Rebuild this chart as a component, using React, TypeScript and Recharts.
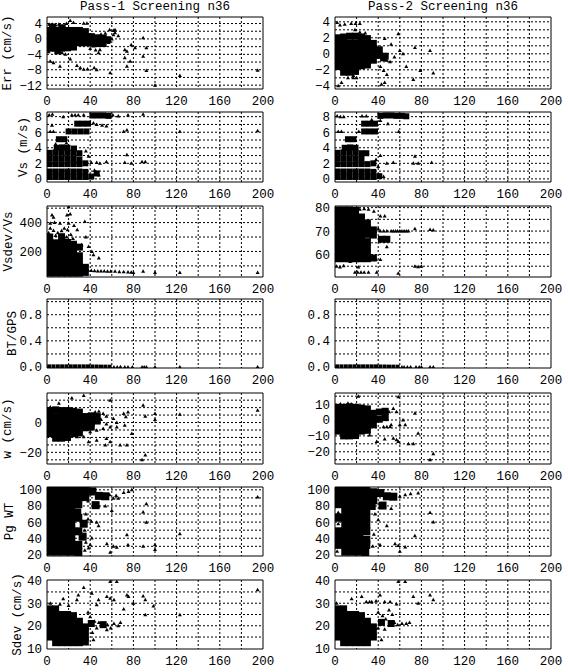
import React from 'react';
import { ScatterChart, Scatter, XAxis, YAxis, CartesianGrid, ReferenceArea } from 'recharts';

type Pt = [number, number];

// ---- shared axis / text data ----
const xTicks = [0, 40, 80, 120, 160, 200];
const xGrid = [20, 40, 60, 80, 100, 120, 140, 160, 180];
const titles = ['Pass-1 Screening n36', 'Pass-2 Screening n36'];
const yLabels = ['Err (cm/s)', 'Vs (m/s)', 'Vsdev/Vs', 'BT/GPS', 'w (cm/s)', 'Pg WT', 'Sdev (cm/s)'];

// ---- Err (cm/s) ----
const errDomainL = [-13, 5.7];
const errTicksL = [-12, -8, -4, 0, 4];
const errGridL = [-12, -10, -8, -6, -4, -2, 0, 2, 4];
const errDomainR = [-4.4, 4.6];
const errTicksR = [-4, -2, 0, 2, 4];
const errGridR = [-4, -3, -2, -1, 0, 1, 2, 3, 4];
const errCoreL: Pt[] = [
  [2.5,2.2],[8,2.2],[13.5,2.2],[19,2.2],[24.5,2.2],[30,2.2],[35.5,1.9],
  [2.5,0.6],[8,0.6],[13.5,0.6],[19,0.6],[24.5,0.6],[30,0.6],[35.5,0.6],[41,0.6],[46.5,0.3],[52,0.2],[56,-0.2],
  [2.5,-1],[8,-1],[13.5,-1],[19,-1],[24.5,-1],[30,-1],[35.5,-1],[41,-1],[46.5,-1.2],[52,-1.2],
  [2.5,-2.4],[8,-2.4],[13.5,-2.4],[19,-2.3],[24.5,-2.1],
  [5,3.1],[14,2.9],[10,-3.1],
];
const errOutL: Pt[] = [
  [2,3.8],[5,3.8],[8,3.6],[11,3.8],[12,3.4],[18,4],[21.5,4.8],[24.5,4.3],[34,4.1],[37,4.1],
  [58,2.4],[63,2.4],[61.5,2.2],
  [1.5,-3.3],[3,-5.8],[6,-6.2],[12,-7.1],[14,-3.6],[17,-4],[21.5,-5.2],[27.7,-6.9],[30.8,-7.5],[34,-7.9],[37.5,-7.8],[43.7,-7.5],[46,-8],
  [49,-2.8],[47.7,-3.6],[45,-2.9],[57,-0.9],[60,0],[61.5,1.1],[63,1.6],[58.5,-8.8],
  [72,-2.8],[74,-3.2],[72,-4.9],[74,-7.1],[77,-5.8],[81.5,-2.3],[78,-1.5],[89,0.3],[92,-2.3],[89,-4.5],[92,-8.2],
  [123,-9.5],[100,-12],[195,-8.1],
  [40,-2.5],[43,-1.8],[50,1.2],[54,1.5],[66,0.8],
];
const errCoreR: Pt[] = [
  [2.5,2.0],[8,2.1],[13.5,2.2],[19,2.2],[24.5,2.1],[30,1.9],
  [2.5,1.35],[8,1.35],[13.5,1.35],[19,1.35],[24.5,1.35],[30,1.35],[35.5,1.3],
  [2.5,0.6],[8,0.6],[13.5,0.6],[19,0.6],[24.5,0.6],[30,0.6],[35.5,0.6],[41,0.5],
  [2.5,-0.15],[8,-0.15],[13.5,-0.15],[19,-0.15],[24.5,-0.15],[30,-0.15],[35.5,-0.15],[41,-0.2],[46.5,-0.3],
  [2.5,-0.9],[8,-0.9],[13.5,-0.9],[19,-0.9],[24.5,-0.9],[30,-0.9],[35.5,-0.8],[45,-0.5],
  [2.5,-1.6],[8,-1.65],[13.5,-1.65],[19,-1.65],[24.5,-1.5],[30,-1.4],
  [8,-2.3],[13.5,-2.3],[19,-2.2],
];
const errOutR: Pt[] = [
  [2,3.9],[4.6,3.6],[9,3.7],[15,3.8],[19,3.8],[23,3.8],[18.5,3],[23,2.7],[28,2.6],
  [58.6,2.5],[46,1.9],[52,1.2],[60,0.4],[63,0],[74,0.8],[88,0.4],
  [48,-0.8],[51,-1],[55,-0.4],[66,-1.6],[79,-2.1],[91,-2.4],[72.5,-3.2],
  [45,-2.1],[48,-2.6],[42,-1.6],[46,-3.6],[43,-3.8],
  [3,-4],[6,-3.6],[12,-3],[17,-3],[20,-3],[11,-2.5],[17,-2.7],
];

// ---- Vs (m/s) ----
const vsDomain = [-0.4, 8.6];
const vsTicks = [0, 2, 4, 6, 8];
const vsGrid = [0, 1, 2, 3, 4, 5, 6, 7, 8];
const vsCoreL: Pt[] = [
  [2.5,0.25],[8,0.25],[13.5,0.25],[19,0.25],[24.5,0.25],[30,0.25],[35.5,0.25],[41,0.3],
  [2.5,0.95],[8,0.95],[13.5,0.95],[19,0.95],[24.5,0.95],[30,0.95],[35.5,0.9],[46,0.7],
  [2.5,1.9],[8,1.9],[13.5,1.9],[19,1.9],[24.5,1.9],[30,1.9],[35.5,2],
  [2.5,2.65],[8,2.65],[13.5,2.65],[19,2.65],[24.5,2.6],[30,2.5],
  [2.5,3.35],[8,3.4],[13.5,3.4],[19,3.4],[24.5,3.35],[30,3.3],
  [9,4],[14,4.05],[19,4],[25,3.9],
  [11,5.1],[16,5.1],
  [20,6.1],[25.5,6.1],[31,6.1],[36.5,6.1],
  [28,7.1],[33,7.1],[38,7.1],
  [42,8.15],[47,8.15],[52,8.15],[57,8.1],
];
const vsOutL: Pt[] = [
  [2,8.2],[5,8.3],[4.6,6.9],[3,6.1],[6,6.1],[15,8],[23,8.2],[26,8.2],[29,8.2],[34,8.2],[61,8.2],[66,8.1],[75,8.2],[89,8.3],
  [46,7],[51,6.9],[55,6.8],[43,7.2],[71,6.1],[74,6.3],[123,6.1],[195,6.2],
  [38.5,2.9],[41,2.1],[46,2.1],[49,2],[55,2.2],[74,3.1],[72,2.1],[78,2],[88,2.2],[91,2.2],[8,4.5],[18,4.6],[36,3.6],
  [48,0.5],[44,1.1],
];
const vsCoreR: Pt[] = [
  [2.5,0.25],[8,0.25],[13.5,0.25],[19,0.25],[24.5,0.25],[30,0.25],[35.5,0.25],[41,0.35],
  [2.5,0.95],[8,0.95],[13.5,0.95],[19,0.95],[24.5,0.95],[30,0.95],[35.5,0.9],
  [2.5,1.9],[8,1.9],[13.5,1.9],[19,1.9],[24.5,1.9],[30,1.9],[35.5,2],
  [2.5,2.65],[8,2.65],[13.5,2.65],[19,2.65],[24.5,2.6],
  [2.5,3.35],[8,3.4],[13.5,3.4],[19,3.4],[24.5,3.3],[29,3.3],
  [9,4],[14,4.05],[19,4],
  [12,5.1],[17,5.1],
  [27,6.1],[32,6.1],[37,6.1],
  [27,7.1],[32,7.1],[37,7.1],
  [42,8.1],[47,8.15],[52,8.15],[57,8.1],[62,8.1],[66,8.05],
];
const vsOutR: Pt[] = [
  [2,8.1],[5,8],[8,8],[25,8.1],[29,8.1],[34,7.6],[42,7.5],[49,7.1],[59,6.1],[3,6.1],[6,6.1],[22,6.1],
  [42,3],[48,2],[54,2.1],[74,2.9],[72.5,2],[77,2],[89.5,2.1],[45,0.3],[38,2.5],[40,1.6],
];

// ---- Vsdev/Vs ----
const vsdDomainL = [23, 515];
const vsdTicksL = [200, 400];
const vsdGridL = [100, 200, 300, 400, 500];
const vsdDomainR = [50.4, 80.7];
const vsdTicksR = [60, 70, 80];
const vsdGridR = [55, 60, 65, 70, 75, 80];
const vsdCoreL: Pt[] = [
  [2.5,50],[8,50],[13.5,50],[19,50],[24.5,50],[30,50],[35.5,55],
  [2.5,92],[8,92],[13.5,92],[19,92],[24.5,92],[30,92],[35.5,90],
  [2.5,134],[8,134],[13.5,134],[19,134],[24.5,134],[30,130],
  [2.5,176],[8,176],[13.5,176],[19,176],[24.5,176],[30,170],
  [2.5,218],[8,218],[13.5,218],[19,220],[24.5,215],[30,230],
  [2.5,260],[8,260],[13.5,260],[19,262],[24.5,250],
  [2.5,300],[13.5,302],
];
const vsdOutL: Pt[] = [
  [20,510],[4.6,453],[6,437],[3,395],[7,400],[12,395],[18.5,453],[21.5,460],[20,395],[35,407],[25,380],[16,360],[28,350],
  [6,345],[10,330],[13.5,344],[19,350],[8,310],[18,300],[22,318],[3,360],[24,290],[1.5,330],
  [32,246],[38.5,234],[41.5,200],[48,154],[43,177],[36,300],
  [38,70],[41,68],[44,66],[47,65],[50,64],[53,64],[56,63],[59,62],[63,62],[67,60],[71,60],[75,58],[78,56],[80,55],
  [89,62],[100,55],[123,55],[195,55],
];
const vsdCoreR: Pt[] = [
  [2.5,79],[8,79],[13.5,79],[19,78.8],
  [2.5,76.4],[8,76.4],[13.5,76.4],[19,76.4],[24.5,76],
  [2.5,73.8],[8,73.8],[13.5,73.8],[19,73.8],[24.5,73.8],[30,73.5],
  [2.5,71.2],[8,71.2],[13.5,71.2],[19,71.2],[24.5,71.2],[30,71.2],[35.5,70.5],
  [2.5,68.6],[8,68.6],[13.5,68.6],[19,68.6],[24.5,68.6],[30,68.6],[35.5,68.3],
  [2.5,66],[8,66],[13.5,66],[19,66],[24.5,66],[30,65.5],[43,66.5],[48,66.5],
  [2.5,63.4],[8,63.4],[13.5,63.4],[19,63.4],[24.5,63.4],[30,63],
  [2.5,60.8],[8,60.8],[13.5,60.8],[19,60.8],[24.5,60.8],[30,60.5],
  [2.5,58.2],[8,58.2],[13.5,58.2],[19,58.2],[24.5,58.2],[30,58.2],[35.5,58.5],
];
const vsdOutR: Pt[] = [
  [23,79.3],[27,79.5],[31,79.3],[36,78.5],[42,76.4],[46,76.4],[40,71],[42,70],[45,70],[48,70],
  [52,70],[54,70],[56,70],[58,70],[60,70],[62,70],[64,70],[66,70],[68,70],[74,71],[88,70.7],[91,70.5],
  [48,63.3],[42,57.9],[38,58],[4.6,54.7],[1.5,55],[8,55.2],[18.5,52.4],[21,52.4],[24,52.4],[27,52.4],[31,52.4],
  [38.6,52.4],[58.6,52],[74,55],[77,54.8],[80,55],[21.6,54.7],[14,57],
];

// ---- BT/GPS ----
const btDomain = [-0.015, 1.04];
const btTicks = [0, 0.4, 0.8];
const btGrid = [0.2, 0.4, 0.6, 0.8, 1.0];
const btCoreL: Pt[] = [
  [2,0.01],[6,0.01],[10,0.01],[14,0.01],[18,0.01],[22,0.01],[26,0.01],[30,0.01],
  [34,0.01],[38,0.01],[42,0.008],[46,0.008],[50,0.006],[54,0.006],[58,0.005],
];
const btOutL: Pt[] = [
  [62,0],[65,0],[68,0.005],[72,0],[75,0],[79,0],[88,0],[90,0],[92,0],[100,0],[123,0],[195,0],
];
const btCoreR: Pt[] = [
  [2,0.01],[6,0.01],[10,0.01],[14,0.01],[18,0.01],[22,0.01],[26,0.01],[30,0.01],
  [34,0.01],[38,0.01],[42,0.008],[46,0.008],[50,0.006],[54,0.006],[58,0.005],
];
const btOutR: Pt[] = [
  [62,0],[64,0],[67,0],[70,0],[75,0],[78,0],[80,0],[88,0],[91,0],
];

// ---- w (cm/s) ----
const wDomainL = [-27.8, 19.8];
const wTicksL = [-20, 0];
const wGridL = [-25, -20, -15, -10, -5, 0, 5, 10, 15];
const wDomainR = [-27.7, 17];
const wTicksR = [-20, -10, 0, 10];
const wGridR = [-25, -20, -15, -10, -5, 0, 5, 10, 15];
const wCoreL: Pt[] = [
  [2.5,8],[8,8.5],[13.5,8],[19,8],[24.5,7.5],[30,7],
  [2.5,4],[8,4],[13.5,4],[19,4],[24.5,4],[30,4],[35.5,4],[41,4.5],[46.5,4],
  [2.5,0],[8,0],[13.5,0],[19,0],[24.5,0],[30,0],[35.5,0],[41,0],[46.5,1],
  [2.5,-4],[8,-4],[13.5,-4],[19,-4],[24.5,-4],[30,-4],[35.5,-3.5],[41,-3],
  [2.5,-7.5],[8,-8],[13.5,-8],[19,-8],[24.5,-7.5],[30,-7],
  [8,-10.5],[13.5,-10.5],[19,-10],
];
const wOutL: Pt[] = [
  [3,10.4],[11,13],[23,16.4],[34,18.2],[58.5,15],[44.6,7.1],[48,7.6],[52,6],[55,4.2],[71,6],[75,7.1],[73,3.8],
  [89,11.6],[91,4.2],[100,6],[100,2],[123,5.6],[195,8.2],
  [61.5,2.7],[64.6,0],[58.5,-3],[64.6,-3],[72,-1.8],[78.5,-7.3],[40,-6.2],[46,-5.1],[52,-4],[38.5,-12.9],
  [46,-11.8],[55,-10.7],[58.5,-12.9],[54,-15.1],[67.7,-15.1],[74,-15.1],[91,-21.8],[88,-25],[34,-9.6],[28,-9.6],
  [50,2],[55,-1],
];
const wCoreR: Pt[] = [
  [2.5,8],[8,8],[13.5,8.3],[19,8],[24.5,7.5],[30,7],
  [2.5,4.2],[8,4.2],[13.5,4.2],[19,4.2],[24.5,4.2],[30,4.2],[35.5,4.2],[41,5],[46.5,5.5],
  [2.5,0.4],[8,0.4],[13.5,0.4],[19,0.4],[24.5,0.4],[30,0.4],[35.5,0.4],[41,0.5],[46.5,1.5],
  [2.5,-3.4],[8,-3.4],[13.5,-3.4],[19,-3.4],[24.5,-3.4],[30,-3.4],[35.5,-3],
  [2.5,-7],[8,-7.2],[13.5,-7.2],[19,-7.2],[24.5,-7],[30,-6.5],
  [8,-10],[13.5,-10],[19,-9.8],
];
const wOutR: Pt[] = [
  [21.6,15],[58.6,14.6],[54,7.3],[57,5.2],[50,5.2],[74,4.2],[63,0],[60,-3],[65,-3],[52,-3],[45,-4.2],[48,-4.2],
  [51,-4.2],[77,-8.3],[32,-9.4],[38.6,-13.5],[46,-12],[54,-11.5],[57,-12.5],[58.6,-13.5],[68,-15],[72.5,-15],
  [91,-21.3],[88,-25],[5,10],[12,10.5],[15,10],
];

// ---- Pg WT ----
const pgDomain = [18, 103.5];
const pgTicks = [20, 40, 60, 80, 100];
const pgGrid = [30, 40, 50, 60, 70, 80, 90, 100];
const pgCoreL: Pt[] = [
  [3,99],[9.5,99],[16,99],[22.5,99],[29,99],[35.5,99],[42,98],
  [3,90.6],[9.5,90.6],[16,90.6],[22.5,90.6],[29,90.6],[35.5,91],[48,92.5],[54,92],
  [3,82.2],[9.5,82.2],[16,82.2],[22.5,82.2],[29,82.2],[45,81],
  [3,73.8],[9.5,73.8],[16,73.8],[22.5,73.8],[28,72],
  [3,65.4],[9.5,65.4],[16,65.4],[22.5,65.4],[29,65.4],
  [3,57],[9.5,57],[16,57],[22.5,57],[34,58],
  [3,48.6],[9.5,48.6],[16,48.6],[22.5,48.6],[29,48.6],
  [3,40.2],[9.5,40.2],[16,40.2],[22.5,40.2],[33,42],
  [3,31.8],[9.5,31.8],[16,31.8],[22.5,31.8],[29,31.8],
  [3,23.4],[9.5,23.4],[16,23.4],[22.5,23.4],[29,23],
];
const pgOutL: Pt[] = [
  [71,96.7],[75.5,98],[78.5,100],[61.5,89.7],[66,89.7],[58,94],[64,93],[41,95],[44,99],[38,86],[43,81.5],[47.7,80],
  [54,80],[60,74.5],[92,82.7],[89,72.4],[92,59.7],[46,59.7],[47.7,55.5],[41,61],[41.5,40.3],[74,44.4],[123,45.7],
  [195,91],[55.4,33.3],[61.5,30],[64.6,28.8],[75,32],[89,30],[100,32],[100,26],[58.5,22.6],[38.5,28],[40,32],
  [36,70],[38,64],[35,50],[36,35],[35,25],
];
const pgCoreR: Pt[] = [
  [3,99],[9.5,99],[16,99],[22.5,99],[29,99],[35.5,97],[42,96],
  [3,90.6],[9.5,90.6],[16,90.6],[22.5,90.6],[29,90.6],[35.5,89],[48,92],[54,91.5],
  [3,82.2],[9.5,82.2],[16,82.2],[22.5,82.2],[29,82.2],[34,80],[44,80.5],
  [9.5,73.8],[16,73.8],[22.5,73.8],[29,73.8],
  [3,65.4],[9.5,65.4],[16,65.4],[22.5,65.4],[29,65.4],
  [9.5,57],[16,57],[22.5,57],[29,57],
  [3,48.6],[9.5,48.6],[16,48.6],[22.5,48.6],[29,48.6],
  [3,40.2],[9.5,40.2],[16,40.2],[22.5,40.2],[29,38],
  [3,31.8],[9.5,31.8],[16,31.8],[22.5,31.8],[29,31.8],
  [9.5,23.4],[16,23.4],[22.5,23.4],[28,23],
];
const pgOutR: Pt[] = [
  [77,96],[60,92],[65,94],[70,95],[88,72],[91,60],[48,55.5],[40,63],[74,43],[55.6,33.3],[58.6,31],[65,29],[60,24],
  [41.7,32],[52,77],[46,80],[38,84],[3,72],[3,58],[2,24],[36,45],[35,30],[37,70],
];

// ---- Sdev (cm/s) ----
const sdDomain = [9.7, 40.3];
const sdTicks = [10, 20, 30, 40];
const sdGrid = [15, 20, 25, 30, 35];
const sdCoreL: Pt[] = [
  [2.5,27.5],[8,27.5],
  [2.5,25],[8,25],[13.5,25],[19,25],[24.5,24.5],
  [2.5,22.5],[8,22.5],[13.5,22.5],[19,22.5],[24.5,22.5],[30,22],
  [2.5,20],[8,20],[13.5,20],[19,20],[24.5,20],[30,20],[35.5,19.5],
  [2.5,17.5],[8,17.5],[13.5,17.5],[19,17.5],[24.5,17.5],[30,17.5],[35.5,17.5],
  [2.5,15],[8,15],[13.5,15],[19,15],[24.5,15],[30,15],[35.5,15],
  [8,12.5],[13.5,12.5],[19,12.5],[24.5,12.5],[30,12.5],[35.5,12.8],
  [41,21],[52,20.5],
];
const sdOutL: Pt[] = [
  [15,32],[20,29],[27.7,31.5],[34,37],[29,33.7],[41.5,34.4],[47.7,31.5],[46,29.3],[58.5,39.6],[64.6,39.6],[55.4,33],
  [58.5,32.2],[62,31.5],[74,33.7],[75.4,33],[80,30],[89,33.2],[91,31.5],[98.5,28.8],[91,24.9],[71,27.4],[123,24.9],
  [195,36],[43,13.8],[55.4,18.2],
  [40,24],[44,22],[46,19],[48,21.5],[56,20.5],[59,19],[62,21],[66,20],[68,21.5],[42,17],[38,26],[12,29.5],[3,30],
];
const sdCoreR: Pt[] = [
  [2.5,27.5],[8,27.5],
  [2.5,25],[8,25],[13.5,25],[19,25],[24.5,24.5],
  [2.5,22.5],[8,22.5],[13.5,22.5],[19,22.5],[24.5,22.5],[30,22],
  [2.5,20],[8,20],[13.5,20],[19,20],[24.5,20],[30,20],[35.5,19.5],
  [2.5,17.5],[8,17.5],[13.5,17.5],[19,17.5],[24.5,17.5],[30,17.5],[35.5,17.5],
  [2.5,15],[8,15],[13.5,15],[19,15],[24.5,15],[30,15],[35.5,15],
  [8,12.5],[13.5,12.5],[19,12.5],[24.5,12.5],[30,12.5],
  [43,21.5],[52,21],
];
const sdOutR: Pt[] = [
  [1.5,30],[15.4,32],[24.7,33],[29,30.7],[32,30.7],[34,30.7],[38,31],[41.7,33.7],[46,30.7],[51,30.7],[57,29.7],
  [58.6,39.6],[65,39.6],[72.5,33],[77,30],[88,33.7],[91,31.5],[43,13.8],
  [40,26],[44,24.5],[47,23],[40,19],[46,18.5],[55,21.5],[58,20.5],[62,21],[66,21],[69,21.5],[50,27],[53,25],
];

// ---- layout ----
const FONT = '"Liberation Mono", "DejaVu Sans Mono", monospace';
const COLS = [
  { left: 0, width: 290, yw: 47, right: 27 },
  { left: 290, width: 278, yw: 45, right: 17 },
];
const TOPS = [17, 112, 206, 299, 393, 487, 580];
const HEIGHTS = [72, 70, 71, 69, 71, 69, 69];
const LABEL_X = [8, 24, 9, 12.5, 8, 10, 18];
const PAD = 4;
const XAXIS_H = 24;

const minus = (v: number) => String(v).replace('-', '\u2212');
const oneDec = (v: number) => v.toFixed(1);

const panels = [
  { row: 0, col: 0, domain: errDomainL, ticks: errTicksL, grid: errGridL, core: errCoreL, out: errOutL, size: 7, fmt: minus },
  { row: 0, col: 1, domain: errDomainR, ticks: errTicksR, grid: errGridR, core: errCoreR, out: errOutR, size: 7, fmt: minus },
  { row: 1, col: 0, domain: vsDomain, ticks: vsTicks, grid: vsGrid, core: vsCoreL, out: vsOutL, size: 6, fmt: minus },
  { row: 1, col: 1, domain: vsDomain, ticks: vsTicks, grid: vsGrid, core: vsCoreR, out: vsOutR, size: 6, fmt: minus },
  { row: 2, col: 0, domain: vsdDomainL, ticks: vsdTicksL, grid: vsdGridL, core: vsdCoreL, out: vsdOutL, size: 7, fmt: minus },
  { row: 2, col: 1, domain: vsdDomainR, ticks: vsdTicksR, grid: vsdGridR, core: vsdCoreR, out: vsdOutR, size: 7, fmt: minus },
  { row: 3, col: 0, domain: btDomain, ticks: btTicks, grid: btGrid, core: btCoreL, out: btOutL, size: 4, fmt: oneDec },
  { row: 3, col: 1, domain: btDomain, ticks: btTicks, grid: btGrid, core: btCoreR, out: btOutR, size: 4, fmt: oneDec },
  { row: 4, col: 0, domain: wDomainL, ticks: wTicksL, grid: wGridL, core: wCoreL, out: wOutL, size: 7, fmt: minus },
  { row: 4, col: 1, domain: wDomainR, ticks: wTicksR, grid: wGridR, core: wCoreR, out: wOutR, size: 7, fmt: minus },
  { row: 5, col: 0, domain: pgDomain, ticks: pgTicks, grid: pgGrid, core: pgCoreL, out: pgOutL, size: 8, fmt: minus },
  { row: 5, col: 1, domain: pgDomain, ticks: pgTicks, grid: pgGrid, core: pgCoreR, out: pgOutR, size: 8, fmt: minus },
  { row: 6, col: 0, domain: sdDomain, ticks: sdTicks, grid: sdGrid, core: sdCoreL, out: sdOutL, size: 7, fmt: minus },
  { row: 6, col: 1, domain: sdDomain, ticks: sdTicks, grid: sdGrid, core: sdCoreR, out: sdOutR, size: 7, fmt: minus },
];

const toPts = (a: Pt[]) => a.map(([x, y]) => ({ x, y }));

const square = (s: number) => (p: any) => {
  if (p.cx == null || p.cy == null) return <g />;
  return <rect x={p.cx - s / 2} y={p.cy - s / 2} width={s} height={s} fill="#000" />;
};

const triangle = (p: any) => {
  if (p.cx == null || p.cy == null) return <g />;
  const { cx, cy } = p;
  return <path d={`M${cx - 2},${cy + 1.5}L${cx + 2},${cy + 1.5}L${cx},${cy - 2}Z`} fill="#000" />;
};

const tickStyle = { fill: '#000', fontSize: 12.5, fontFamily: FONT };

function Panel({ p }: { p: (typeof panels)[number] }) {
  const c = COLS[p.col];
  const h = HEIGHTS[p.row];
  return (
    <div style={{ position: 'absolute', left: c.left, top: TOPS[p.row] - PAD }}>
      <ScatterChart
        width={c.width}
        height={PAD + h + XAXIS_H}
        margin={{ top: PAD, right: c.right, bottom: 0, left: 0 }}
      >
        <CartesianGrid
          stroke="#000"
          strokeDasharray="2 2"
          horizontalValues={p.grid}
          verticalValues={xGrid}
        />
        <XAxis
          type="number"
          dataKey="x"
          domain={[0, 200]}
          ticks={xTicks}
          interval={0}
          allowDataOverflow
          height={XAXIS_H}
          axisLine={false}
          tickLine={false}
          tickSize={5}
          tickMargin={2}
          tick={tickStyle}
        />
        <YAxis
          type="number"
          dataKey="y"
          domain={p.domain}
          ticks={p.ticks}
          interval={0}
          allowDataOverflow
          width={c.yw}
          axisLine={false}
          tickLine={false}
          tickSize={3}
          tickMargin={2}
          tick={tickStyle}
          tickFormatter={p.fmt}
        />
        <Scatter data={toPts(p.core)} shape={square(p.size)} isAnimationActive={false} />
        <Scatter data={toPts(p.out)} shape={triangle} isAnimationActive={false} />
        <ReferenceArea
          x1={0}
          x2={200}
          y1={p.domain[0]}
          y2={p.domain[1]}
          fill="none"
          fillOpacity={0}
          stroke="#000"
          strokeWidth={1}
          ifOverflow="visible"
        />
      </ScatterChart>
    </div>
  );
}

export default function App() {
  return (
    <div style={{ position: 'absolute', left: 0, top: 0, width: 568, height: 672, background: '#fff', overflow: 'hidden' }}>
      {panels.map((p, i) => (
        <Panel key={i} p={p} />
      ))}
      <svg width={568} height={672} style={{ position: 'absolute', left: 0, top: 0, pointerEvents: 'none' }}>
        {/* column titles */}
        {titles.map((t, i) => {
          const c = COLS[i];
          const cx = c.left + c.yw + (c.width - c.yw - c.right) / 2;
          return (
            <text key={t} x={cx} y={7} textAnchor="middle" dominantBaseline="central" fontFamily={FONT} fontSize={12.5} fill="#000">
              {t}
            </text>
          );
        })}
        {/* y axis labels, left column only */}
        {yLabels.map((l, r) => {
          const cy = TOPS[r] + HEIGHTS[r] / 2;
          return (
            <text
              key={l}
              x={LABEL_X[r]}
              y={cy}
              transform={`rotate(-90 ${LABEL_X[r]} ${cy})`}
              textAnchor="middle"
              dominantBaseline="central"
              fontFamily={FONT}
              fontSize={12.5}
              fill="#000"
            >
              {l}
            </text>
          );
        })}
      </svg>
    </div>
  );
}
